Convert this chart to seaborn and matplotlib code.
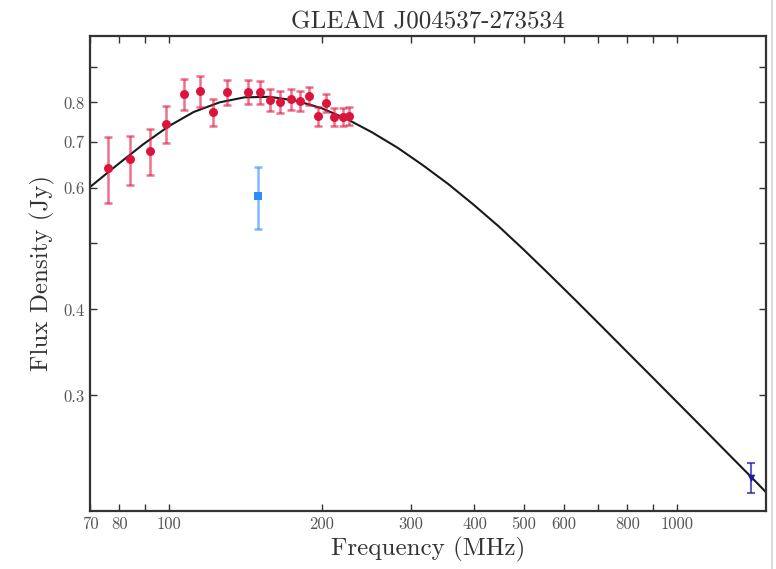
import numpy as np
import pandas as pd
import matplotlib
matplotlib.use('Agg')
import matplotlib.pyplot as plt
from matplotlib.lines import Line2D
import seaborn as sns

# ── Data ──────────────────────────────────────────────────────────────
# GLEAM sub-band points
gleam_freq = [76, 84, 92, 99, 107, 115, 122, 130, 143, 151,
              158, 166, 174, 181, 189, 197, 204, 212, 220, 227]
gleam_flux = [0.642, 0.661, 0.680, 0.744, 0.822, 0.831, 0.775, 0.827, 0.829, 0.827,
              0.806, 0.801, 0.808, 0.804, 0.817, 0.764, 0.799, 0.762, 0.762, 0.765]
gleam_err = [0.070, 0.055, 0.052, 0.046, 0.042, 0.042, 0.035, 0.034, 0.034, 0.031,
             0.030, 0.030, 0.028, 0.027, 0.024, 0.024, 0.025, 0.023, 0.023, 0.023]

# 150 MHz point (light blue square)
tgss_freq = [150]
tgss_flux = [0.584]
tgss_err = [0.060]

# 1400 MHz point (dark blue)
nvss_freq = [1400]
nvss_flux = [0.2276]
nvss_err = [0.0115]

# fitted model curve
fit_freq = [70, 79.4, 89.1, 100, 112, 126, 141, 158, 178, 200,
            224, 251, 282, 316, 355, 398, 447, 501, 562, 631,
            708, 794, 891, 1000, 1122, 1259, 1413, 1500]
fit_flux = [0.6026, 0.6500, 0.6953, 0.7385, 0.7747, 0.8001, 0.8136, 0.8150, 0.8047, 0.7846,
            0.7571, 0.7242, 0.6877, 0.6489, 0.6089, 0.5684, 0.5279, 0.4880, 0.4496, 0.4133,
            0.3797, 0.3487, 0.3202, 0.2939, 0.2698, 0.2475, 0.2271, 0.2170]

x_ticks = [70, 80, 90, 100, 200, 300, 400, 500, 600, 700, 800, 900, 1000]
x_labels = ['70', '80', '', '100', '200', '300', '400', '500', '600', '', '800', '', '1000']
y_ticks = [0.3, 0.4, 0.5, 0.6, 0.7, 0.8, 0.9]
y_labels = ['0.3', '0.4', '', '0.6', '0.7', '0.8', '']

# ── Style ─────────────────────────────────────────────────────────────
sns.set_theme(style='ticks')
plt.rcParams['font.family'] = ['cmr10', 'DejaVu Serif']
plt.rcParams['axes.formatter.use_mathtext'] = True
plt.rcParams['axes.unicode_minus'] = False

RED = '#dc143c'
LIGHT_BLUE = '#2a8cff'
DARK_BLUE = '#1c1ca0'

fig, ax = plt.subplots(figsize=(7.76, 5.69), dpi=100)
fig.subplots_adjust(left=90/776, right=766/776, top=1-35.7/569, bottom=1-510.7/569)

fit_df = pd.DataFrame({'freq': fit_freq, 'flux': fit_flux})
sns.lineplot(data=fit_df, x='freq', y='flux', color='#1a1a1a', lw=1.5, ax=ax, zorder=2)

ax.errorbar(gleam_freq, gleam_flux, yerr=gleam_err, fmt='none', ecolor=RED,
            alpha=0.6, elinewidth=1.8, capsize=3, capthick=1.8, zorder=3)
sns.scatterplot(x=gleam_freq, y=gleam_flux, color=RED, s=42, marker='o',
                edgecolor=RED, linewidth=0, ax=ax, zorder=4)

ax.errorbar(tgss_freq, tgss_flux, yerr=tgss_err, fmt='none', ecolor=LIGHT_BLUE,
            alpha=0.6, elinewidth=1.8, capsize=3, capthick=1.8, zorder=3)
sns.scatterplot(x=tgss_freq, y=tgss_flux, color=LIGHT_BLUE, s=36, marker='s',
                edgecolor=LIGHT_BLUE, linewidth=0, ax=ax, zorder=4)

ax.errorbar(nvss_freq, nvss_flux, yerr=nvss_err, fmt='none', ecolor=DARK_BLUE,
            alpha=0.7, elinewidth=1.5, capsize=3, capthick=1.5, zorder=3)
sns.scatterplot(x=nvss_freq, y=nvss_flux, color=DARK_BLUE, s=30, marker='v',
                edgecolor=DARK_BLUE, linewidth=0, ax=ax, zorder=4)

ax.set_xscale('log')
ax.set_yscale('log')
ax.set_xlim(70, 1500)
ax.set_ylim(0.204, 1.0)

ax.xaxis.set_minor_locator(matplotlib.ticker.NullLocator())
ax.yaxis.set_minor_locator(matplotlib.ticker.NullLocator())
ax.set_xticks(x_ticks)
ax.set_xticklabels(x_labels)
ax.set_yticks(y_ticks)
ax.set_yticklabels(y_labels)
ax.tick_params(which='both', direction='in', top=True, right=True, length=5, width=1,
               color='#333333', labelsize=12, labelcolor='#555555', pad=4)

for sp in ax.spines.values():
    sp.set_color('#333333')
    sp.set_linewidth(1.6)

ax.set_xlabel('Frequency (MHz)', fontsize=18, color='#333333', labelpad=4)
ax.set_ylabel('Flux Density (Jy)', fontsize=18, color='#333333', labelpad=6)
ax.set_title('GLEAM J004537-273534', fontsize=18, color='#333333', pad=5)

# light border line at the right edge of the screenshot
fig.add_artist(Line2D([771.5/776, 771.5/776], [0, 1], color='#d4d4d4', lw=1.2))

plt.savefig('out.png', dpi=100)
plt.close()
